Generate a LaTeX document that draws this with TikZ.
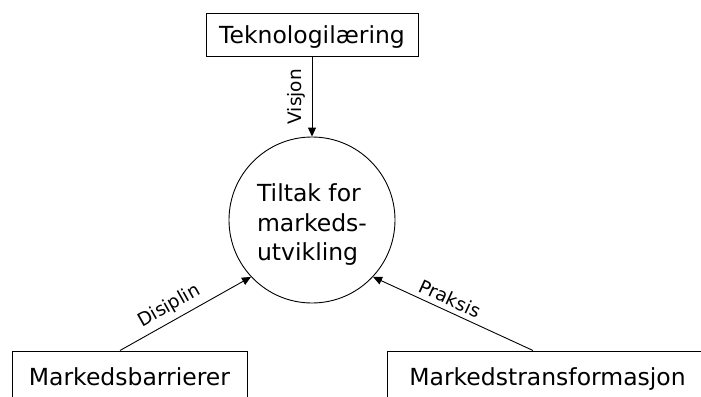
\documentclass[tikz,border=0pt]{standalone}
\usepackage{fontspec}
\setmainfont{DejaVu Sans}
\usetikzlibrary{arrows.meta, positioning}

\begin{document}
\begin{tikzpicture}[x=1pt, y=-1pt, line width=0.9pt,
    boks/.style={draw, text height=17pt, text depth=0pt, minimum height=43pt,
      font=\fontsize{23.5}{29.5}\selectfont},
    sirkel/.style={draw, circle, minimum size=166pt, align=left, text height=86pt,
      font=\fontsize{23.5}{29.5}\selectfont},
    pil/.style={-{Triangle[length=9pt, width=8pt]}},
    etikett/.style={font=\fontsize{18.5}{22}\selectfont, inner sep=5pt}]
      % Frame of the picture
      \path[use as bounding box, clip] (0,0) rectangle (701,396);

      % Boxes and the circle
      \node[boks, minimum width=212pt] (tek) at (312,35) {Teknologilæring};
      \node[sirkel] (tiltak) at (312,220) {Tiltak for\\markeds-\\utvikling};
      \node[boks, anchor=north, minimum height=52pt, minimum width=235pt] (barr) at (129.5,350.5) {Markedsbarrierer};
      \node[boks, anchor=north, minimum height=52pt, minimum width=321pt] (trans) at (547.5,350.5) {Markedstransformasjon};

      % Arrows into the circle
      \draw[pil] (tek) -- node[etikett, rotate=90, anchor=south, inner sep=6pt] {Visjon} (tiltak);
      \draw[pil] ([xshift=-9.5pt]barr.north) -- node[etikett, sloped, above, pos=0.43] {Disiplin} (tiltak.223);
      \draw[pil] ([xshift=-14.5pt]trans.north) -- node[etikett, sloped, above, pos=0.55] {Praksis} (tiltak.317);
\end{tikzpicture}
\end{document}
